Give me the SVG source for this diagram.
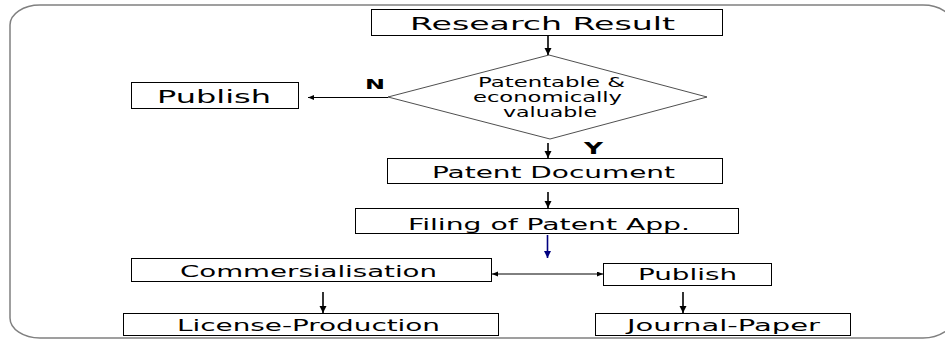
<svg xmlns="http://www.w3.org/2000/svg" width="945" height="339" viewBox="0 0 945 339">
<defs>
<style>
.box{fill:#fff;stroke:#000;stroke-width:1}
.t{font-family:"DejaVu Sans","Liberation Sans",sans-serif;fill:#000}
.c{stroke:#000;stroke-width:1.6;fill:none}
</style>
<marker id="ah" markerUnits="userSpaceOnUse" markerWidth="10" markerHeight="10" refX="7" refY="3.5" orient="auto">
<path d="M0,0 L7,3.5 L0,7 Z" fill="#000"/>
</marker>
<marker id="ahs" markerUnits="userSpaceOnUse" markerWidth="8" markerHeight="8" refX="6" refY="2.5" orient="auto-start-reverse">
<path d="M0,0 L6,2.5 L0,5 Z" fill="#000"/>
</marker>
<marker id="ahb" markerUnits="userSpaceOnUse" markerWidth="10" markerHeight="10" refX="7" refY="3.5" orient="auto">
<path d="M0,0 L7,3.5 L0,7 Z" fill="#000080"/>
</marker>
</defs>
<rect x="10" y="5" width="943" height="333" rx="30" ry="20" fill="#fff" stroke="#808080" stroke-width="1.5"/>
<g id="research">
<rect class="box" x="371.5" y="9.5" width="351" height="26"/>
<text class="t" x="410" y="29.5" font-size="18" textLength="265" lengthAdjust="spacingAndGlyphs">Research Result</text>
</g>
<g id="decision">
<polygon points="549,55 707,97 550,139 388,97" fill="#fff" stroke="#222" stroke-width="0.8"/>
<text class="t" x="478" y="87.3" font-size="14" textLength="147" lengthAdjust="spacingAndGlyphs">Patentable &amp;</text>
<text class="t" x="473" y="102" font-size="14" textLength="149" lengthAdjust="spacingAndGlyphs">economically</text>
<text class="t" x="503" y="116.7" font-size="14" textLength="94" lengthAdjust="spacingAndGlyphs">valuable</text>
</g>
<g id="publish1">
<rect class="box" x="131.5" y="82.5" width="167" height="26"/>
<text class="t" x="157" y="102.5" font-size="18" textLength="114" lengthAdjust="spacingAndGlyphs">Publish</text>
</g>
<g id="patentdoc">
<rect class="box" x="387.5" y="158.5" width="335" height="25"/>
<text class="t" x="432" y="178.3" font-size="16" textLength="243" lengthAdjust="spacingAndGlyphs">Patent Document</text>
</g>
<g id="filing">
<rect class="box" x="355.5" y="208.5" width="383" height="25"/>
<text class="t" x="408" y="229.5" font-size="16" textLength="282" lengthAdjust="spacingAndGlyphs">Filing of Patent App.</text>
</g>
<g id="commercialisation">
<rect class="box" x="131.5" y="258.5" width="360" height="23"/>
<text class="t" x="180" y="276.7" font-size="16" textLength="257" lengthAdjust="spacingAndGlyphs">Commersialisation</text>
</g>
<g id="publish2">
<rect class="box" x="603.5" y="263.5" width="168" height="22"/>
<text class="t" x="638" y="280" font-size="16" textLength="99" lengthAdjust="spacingAndGlyphs">Publish</text>
</g>
<g id="license">
<rect class="box" x="123.5" y="313.5" width="375" height="22"/>
<text class="t" x="177" y="331" font-size="16" textLength="263" lengthAdjust="spacingAndGlyphs">License-Production</text>
</g>
<g id="journal">
<rect class="box" x="595.5" y="313.5" width="255" height="22"/>
<text class="t" x="627" y="331" font-size="16" textLength="193" lengthAdjust="spacingAndGlyphs">Journal-Paper</text>
</g>
<g id="connectors">
<line class="c" x1="548" y1="36" x2="548" y2="55" marker-end="url(#ah)"/>
<line x1="388" y1="97.5" x2="308" y2="97.5" stroke="#000" stroke-width="1" marker-end="url(#ahs)"/>
<text class="t" x="365" y="89" font-size="14" font-weight="bold" textLength="20" lengthAdjust="spacingAndGlyphs">N</text>
<line class="c" x1="548" y1="143" x2="548" y2="158" marker-end="url(#ah)"/>
<text class="t" x="584" y="154" font-size="15" font-weight="bold" textLength="19" lengthAdjust="spacingAndGlyphs">Y</text>
<line class="c" x1="548" y1="192" x2="548" y2="208" marker-end="url(#ah)"/>
<line x1="547.5" y1="235" x2="547.5" y2="258" stroke="#000080" stroke-width="1.6" marker-end="url(#ahb)"/>
<line x1="492" y1="274" x2="603" y2="274" stroke="#000" stroke-width="1" marker-start="url(#ahs)" marker-end="url(#ahs)"/>
<line class="c" x1="323" y1="292" x2="323" y2="313" marker-end="url(#ah)"/>
<line class="c" x1="683" y1="292" x2="683" y2="313" marker-end="url(#ah)"/>
</g>
</svg>
